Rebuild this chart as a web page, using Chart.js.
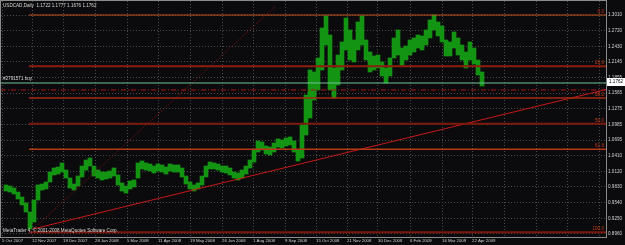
<!DOCTYPE html>
<html>
<head>
<meta charset="utf-8">
<script src="https://cdn.jsdelivr.net/npm/chart.js@4.4.1/dist/chart.umd.min.js"></script>
<style>
  html, body { margin: 0; padding: 0; background: #0b0b0d; }
  canvas { display: block; }
</style>
</head>
<body>
<canvas id="chart" width="625" height="245"></canvas>
<script>
// USDCAD daily, one sample every 4th bar (bar number = days on the chart)
const firstBar = 5;
const barStep = 4;
const highs = [
  0.9866, 0.9847, 0.9810, 0.9736, 0.9644, 0.9533, 0.9366, 0.9588, 0.9866, 0.9884,
  0.9921, 1.0106, 1.0180, 1.0199, 1.0273, 1.0143, 0.9995, 0.9884, 1.0032, 1.0217,
  1.0328, 1.0365, 1.0217, 1.0143, 1.0106, 1.0106, 1.0125, 1.0180, 1.0051, 0.9903,
  0.9847, 0.9940, 0.9958, 1.0273, 1.0310, 1.0273, 1.0254, 1.0217, 1.0254, 1.0236,
  1.0199, 1.0254, 1.0236, 1.0236, 1.0180, 1.0032, 0.9921, 0.9866, 0.9903, 1.0032,
  1.0217, 1.0291, 1.0273, 1.0254, 1.0217, 1.0217, 1.0180, 1.0106, 1.0088, 1.0143,
  1.0217, 1.0328, 1.0513, 1.0680, 1.0661, 1.0587, 1.0569, 1.0643, 1.0717, 1.0698,
  1.0735, 1.0754, 1.0680, 1.0513, 1.0976, 1.1530, 1.1993, 1.1956, 1.2215, 1.2770,
  1.2992, 1.2640, 1.2030, 1.2270, 1.2511, 1.2955, 1.2733, 1.2548, 1.2881, 1.2992,
  1.2548, 1.2326, 1.2252, 1.2270, 1.2141, 1.2030, 1.2215, 1.2585, 1.2733, 1.2400,
  1.2437, 1.2548, 1.2585, 1.2640, 1.2622, 1.2733, 1.2918, 1.3010, 1.2881, 1.2807,
  1.2548, 1.2511, 1.2696, 1.2585, 1.2455, 1.2326, 1.2511, 1.2400, 1.2178, 1.1956
];
const lows = [
  0.9755, 0.9736, 0.9699, 0.9607, 0.9496, 0.9366, 0.9052, 0.9181, 0.9588, 0.9773,
  0.9792, 0.9921, 1.0051, 1.0069, 1.0106, 0.9995, 0.9810, 0.9773, 0.9847, 1.0014,
  1.0143, 1.0217, 1.0032, 0.9995, 0.9958, 0.9977, 0.9995, 1.0032, 0.9866, 0.9755,
  0.9718, 0.9792, 0.9829, 0.9995, 1.0162, 1.0143, 1.0125, 1.0088, 1.0125, 1.0106,
  1.0069, 1.0125, 1.0106, 1.0106, 1.0014, 0.9884, 0.9792, 0.9755, 0.9792, 0.9866,
  1.0014, 1.0162, 1.0162, 1.0143, 1.0106, 1.0088, 1.0051, 0.9995, 0.9958, 0.9995,
  1.0069, 1.0180, 1.0291, 1.0476, 1.0513, 1.0439, 1.0421, 1.0476, 1.0569, 1.0550,
  1.0587, 1.0606, 1.0476, 1.0310, 1.0365, 1.0791, 1.1105, 1.1438, 1.1623, 1.1993,
  1.2455, 1.1623, 1.1475, 1.1715, 1.1993, 1.2363, 1.2178, 1.2141, 1.2363, 1.2455,
  1.2178, 1.1956, 1.1993, 1.2030, 1.1882, 1.1752, 1.1882, 1.2215, 1.2270, 1.2085,
  1.2178, 1.2270, 1.2326, 1.2400, 1.2363, 1.2455, 1.2585, 1.2733, 1.2622, 1.2511,
  1.2252, 1.2252, 1.2400, 1.2270, 1.2178, 1.2030, 1.2178, 1.2104, 1.1900, 1.1697
];

const dateTickBars = [1, 31, 62, 94, 126, 157, 189, 221, 252, 284, 315, 346, 377, 409, 441, 471];
const dateTickLabels = ['5 Oct 2007', '12 Nov 2007', '19 Dec 2007', '28 Jan 2008', '5 Mar 2008',
  '11 Apr 2008', '19 May 2008', '26 Jun 2008', '1 Aug 2008', '9 Sep 2008', '15 Oct 2008',
  '21 Nov 2008', '30 Dec 2008', '6 Feb 2009', '16 Mar 2009', '22 Apr 2009'];
const futureGridBars = [503, 535, 566, 598];
const lastBar = 605;

const priceTicks = [1.3010, 1.2720, 1.2430, 1.2145, 1.1855, 1.1565, 1.1275, 1.0985,
  1.0695, 1.0410, 1.0120, 0.9830, 0.9540, 0.9250, 0.8960];

const fibLevels = [1.3010, 1.2061, 1.1474, 1.1000, 1.0526, 0.8990];
const fibLabels = ['0.0', '23.6', '38.2', '50.0', '61.8', '100.0'];
const fibStartBar = 28;

const trendBars = [32, 605];
const trendPrices = [0.9052, 1.1632];
const fanBars = [32, 274];
const fanPrices = [0.9052, 1.3165];

const orderPrice = 1.1752;
const stopPrice = 1.1623;
const ohlc = [1.1722, 1.1777, 1.1676, 1.1762];

const fibColors = ['#c4501e', '#8e1e10', '#a42a14', '#7e1a0e', '#b43a18', '#7a160c'];
const fibWidths = [1, 2, 1.5, 2, 1.5, 2];
const FONT = 'Liberation Sans';

function hline(price, from, color, width, dash) {
  return {
    type: 'line',
    data: [{ x: from, y: price }, { x: lastBar, y: price }],
    borderColor: color,
    borderWidth: width,
    borderDash: dash || [],
    pointRadius: 0,
    order: 0,
  };
}

const overlay = {
  id: 'overlay',
  beforeDraw(chart) {
    const { ctx, width, height } = chart;
    ctx.save();
    ctx.fillStyle = '#0b0b0d';
    ctx.fillRect(0, 0, width, height);
    ctx.restore();
  },
  afterDraw(chart) {
    const { ctx, chartArea: a, scales: { y } } = chart;
    ctx.save();
    ctx.strokeStyle = '#8c8c8c';
    ctx.lineWidth = 1;
    ctx.strokeRect(a.left - 0.5, a.top - 0.5, a.right - a.left + 1, a.bottom - a.top + 1);

    ctx.font = '4.6px "' + FONT + '"';
    ctx.textBaseline = 'bottom';
    ctx.textAlign = 'right';
    fibLevels.forEach((lvl, i) => {
      ctx.fillStyle = '#cc3a1c';
      ctx.fillText(fibLabels[i], a.right - 2, y.getPixelForValue(lvl) - 1);
    });

    ctx.textAlign = 'left';
    ctx.fillStyle = '#d8d8d8';
    ctx.font = '4.6px "' + FONT + '"';
    ctx.textBaseline = 'middle';
    ctx.fillText('USDCAD,Daily  ' + ohlc.map(v => v.toFixed(4)).join(' '), a.left + 2, 6);
    ctx.fillText('#2791571 buy', a.left + 2, y.getPixelForValue(orderPrice) - 4);
    ctx.fillText('MetaTrader 4, \u00a9 2001-2008 MetaQuotes Software Corp.', a.left + 2, 231);

    const py = Math.round(y.getPixelForValue(ohlc[3]));
    ctx.fillStyle = '#ffffff';
    ctx.fillRect(a.right + 1, py - 4, 19, 8);
    ctx.fillStyle = '#000000';
    ctx.fillText(ohlc[3].toFixed(4), a.right + 3, py);
    ctx.restore();
  }
};

new Chart(document.getElementById('chart'), {
  type: 'bar',
  data: {
    datasets: [
      {
        label: 'USDCAD',
        data: highs.map((h, i) => ({ x: firstBar + i * barStep, y: [lows[i], h] })),
        backgroundColor: '#139513',
        borderWidth: 0,
        barPercentage: 1,
        categoryPercentage: 1,
        order: 2,
      },
      ...fibLevels.map((lvl, i) => hline(lvl, fibStartBar, fibColors[i], fibWidths[i])),
      hline(stopPrice, 0, '#b01414', 1, [5, 2, 1, 2]),
      hline(orderPrice, 0, '#74c294', 1.2),
      {
        type: 'line',
        data: trendBars.map((b, i) => ({ x: b, y: trendPrices[i] })),
        borderColor: '#c81818',
        borderWidth: 1,
        pointRadius: 0,
        order: 0,
      },
      {
        type: 'line',
        data: fanBars.map((b, i) => ({ x: b, y: fanPrices[i] })),
        borderColor: '#a01414',
        borderWidth: 1,
        borderDash: [1, 2],
        pointRadius: 0,
        order: 0,
      },
    ],
  },
  options: {
    responsive: false,
    animation: false,
    events: [],
    layout: { padding: { left: 1, top: 1, right: 0, bottom: 0 } },
    plugins: { legend: { display: false }, tooltip: { enabled: false } },
    scales: {
      x: {
        type: 'linear',
        min: 0,
        max: lastBar,
        offset: false,
        afterBuildTicks: s => { s.ticks = dateTickBars.concat(futureGridBars).map(v => ({ value: v })); },
        afterFit: s => { s.height = 8; s.paddingLeft = 0; s.paddingRight = 0; },
        grid: { color: '#4a4a4a', lineWidth: 1, drawTicks: false, offset: false },
        border: { display: true, color: '#8c8c8c', dash: [1, 2] },
        ticks: {
          callback: v => { const k = dateTickBars.indexOf(v); return k >= 0 ? dateTickLabels[k] : ''; },
          align: 'start',
          autoSkip: false,
          maxRotation: 0,
          padding: 1,
          color: '#d0d0d0',
          font: { family: FONT, size: 4.3 },
        },
      },
      y: {
        position: 'right',
        min: 0.8904,
        max: 1.3269,
        afterBuildTicks: s => { s.ticks = priceTicks.map(v => ({ value: v })); },
        afterFit: s => { s.width = 19; s.paddingTop = 0; s.paddingBottom = 0; },
        grid: { color: '#4a4a4a', lineWidth: 1, drawTicks: false },
        border: { display: true, color: '#a0a0a0', dash: [1, 2] },
        ticks: {
          callback: v => v.toFixed(4),
          padding: 2,
          color: '#d0d0d0',
          font: { family: FONT, size: 4.6 },
        },
      },
    },
  },
  plugins: [overlay],
});
</script>
</body>
</html>
